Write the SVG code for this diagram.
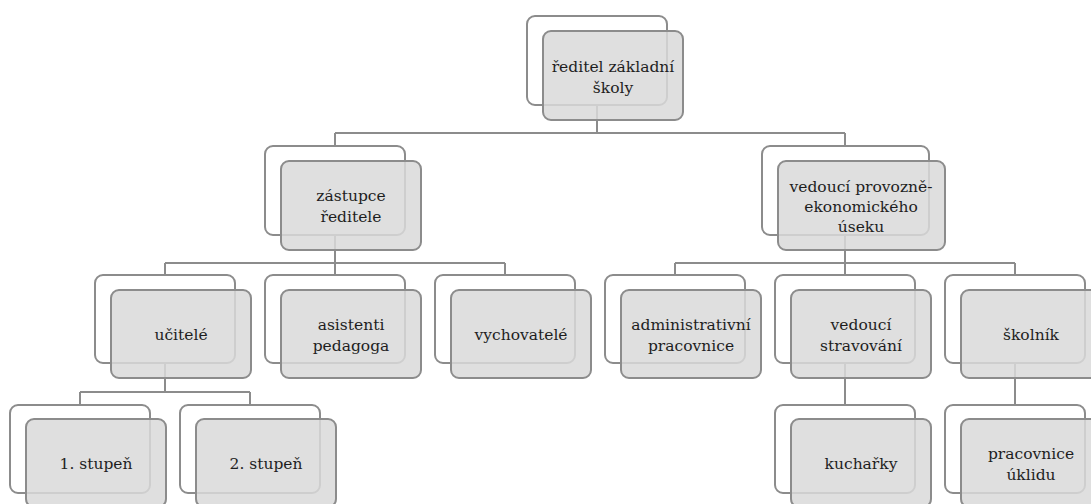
<svg xmlns="http://www.w3.org/2000/svg" width="1091" height="504" viewBox="0 0 1091 504">
<style>
.bk{fill:#ffffff;stroke:#8c8c8c;stroke-width:2}
.fr{fill:#d9d9d9;fill-opacity:0.85;stroke:#8c8c8c;stroke-width:2}
.c{fill:none;stroke:#8c8c8c;stroke-width:2}
text{font-family:'DejaVu Serif','Liberation Serif',serif;font-size:15.5px;fill:#1e1e1e;text-anchor:middle}
</style>
<rect width="1091" height="504" fill="#ffffff"/>
<g id="connectors">
<path class="c" d="M597,106V133M335,133H845M335,133V146M845,133V146"/>
<path class="c" d="M335,235V263M165,263H505M165,263V275M335,263V275M505,263V275"/>
<path class="c" d="M845,235V263M675,263H1015M675,263V275M845,263V275M1015,263V275"/>
<path class="c" d="M165,363V392M80,392H250M80,392V405M250,392V405"/>
<path class="c" d="M845,363V405M1015,363V405"/>
</g>
<g id="n-reditel">
<rect class="bk" x="527" y="16" width="140" height="89" rx="8"/>
<rect class="fr" x="543" y="31" width="140" height="89" rx="8"/>
<text x="613" y="72">ředitel základní</text><text x="613" y="93">školy</text>
</g>
<g id="n-zastupce">
<rect class="bk" x="265" y="146" width="140" height="89" rx="8"/>
<rect class="fr" x="281" y="161" width="140" height="89" rx="8"/>
<text x="351" y="201">zástupce</text><text x="351" y="222">ředitele</text>
</g>
<g id="n-vedouci-pe">
<rect class="bk" x="762" y="146" width="167" height="89" rx="8"/>
<rect class="fr" x="778" y="161" width="167" height="89" rx="8"/>
<text x="861" y="192">vedoucí provozně-</text><text x="861" y="212">ekonomického</text><text x="861" y="232">úseku</text>
</g>
<g id="n-ucitele">
<rect class="bk" x="95" y="275" width="140" height="88" rx="8"/>
<rect class="fr" x="111" y="290" width="140" height="88" rx="8"/>
<text x="181" y="340">učitelé</text>
</g>
<g id="n-asistenti">
<rect class="bk" x="265" y="275" width="140" height="88" rx="8"/>
<rect class="fr" x="281" y="290" width="140" height="88" rx="8"/>
<text x="351" y="330">asistenti</text><text x="351" y="351">pedagoga</text>
</g>
<g id="n-vychovatele">
<rect class="bk" x="435" y="275" width="140" height="88" rx="8"/>
<rect class="fr" x="451" y="290" width="140" height="88" rx="8"/>
<text x="521" y="340">vychovatelé</text>
</g>
<g id="n-administrativni">
<rect class="bk" x="605" y="275" width="140" height="88" rx="8"/>
<rect class="fr" x="621" y="290" width="140" height="88" rx="8"/>
<text x="691" y="330">administrativní</text><text x="691" y="351">pracovnice</text>
</g>
<g id="n-stravovani">
<rect class="bk" x="775" y="275" width="140" height="88" rx="8"/>
<rect class="fr" x="791" y="290" width="140" height="88" rx="8"/>
<text x="861" y="330">vedoucí</text><text x="861" y="351">stravování</text>
</g>
<g id="n-skolnik">
<rect class="bk" x="945" y="275" width="140" height="88" rx="8"/>
<rect class="fr" x="961" y="290" width="140" height="88" rx="8"/>
<text x="1031" y="340">školník</text>
</g>
<g id="n-stupen1">
<rect class="bk" x="10" y="405" width="140" height="88" rx="8"/>
<rect class="fr" x="26" y="419" width="140" height="88" rx="8"/>
<text x="96" y="469">1. stupeň</text>
</g>
<g id="n-stupen2">
<rect class="bk" x="180" y="405" width="140" height="88" rx="8"/>
<rect class="fr" x="196" y="419" width="140" height="88" rx="8"/>
<text x="266" y="469">2. stupeň</text>
</g>
<g id="n-kucharky">
<rect class="bk" x="775" y="405" width="140" height="88" rx="8"/>
<rect class="fr" x="791" y="419" width="140" height="88" rx="8"/>
<text x="861" y="469">kuchařky</text>
</g>
<g id="n-uklid">
<rect class="bk" x="945" y="405" width="140" height="88" rx="8"/>
<rect class="fr" x="961" y="419" width="140" height="88" rx="8"/>
<text x="1031" y="459">pracovnice</text><text x="1031" y="480">úklidu</text>
</g>
</svg>
